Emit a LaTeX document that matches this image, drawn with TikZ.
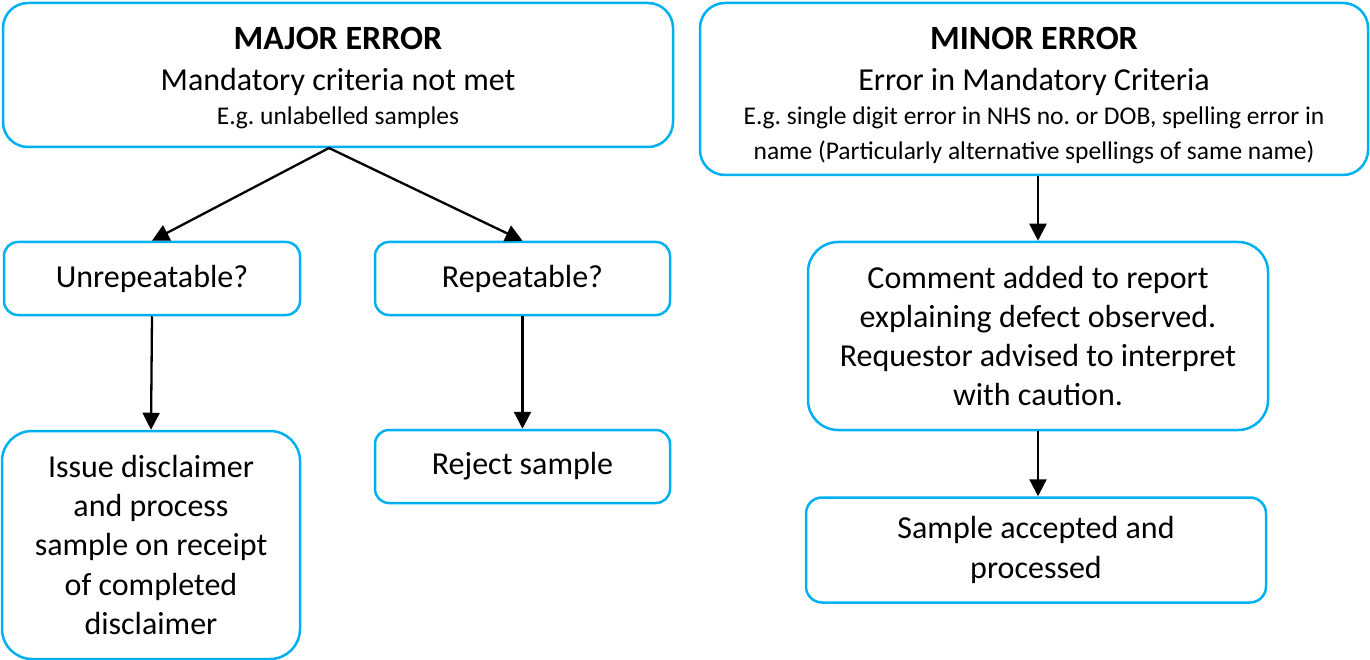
\documentclass[tikz,border=0pt]{standalone}
\usepackage{fontspec}
\setmainfont{Carlito}
\usetikzlibrary{arrows.meta}
\definecolor{boxblue}{RGB}{0,176,240}
\newcommand{\titlef}{\fontsize{34}{40}\selectfont\bfseries}
\newcommand{\headf}{\fontsize{32}{40.5}\selectfont}
\newcommand{\bodyf}{\fontsize{32}{39.3}\selectfont}
\newcommand{\smallf}{\fontsize{25.5}{34.5}\selectfont}
\newcommand{\topstrut}[1]{\rule{0pt}{#1}}
\frenchspacing
\begin{document}
\begin{tikzpicture}[x=1pt,y=-1pt,
            box/.style={draw=boxblue,line width=2.5pt,rounded corners=#1,
                align=flush center,inner sep=0pt,font=\bodyf},
            box/.default=14pt,
            go/.style={line width=2.3pt,-{Triangle[width=17pt,length=17pt]}}]
            \useasboundingbox (0,0) rectangle (1370,660);
            % <<< left side
            \node[box=25pt,minimum width=670pt,minimum height=144pt,text width=660pt]
                (major) at (338,75)
                {{\titlef\topstrut{29pt}MAJOR ERROR\par}{\headf Mandatory criteria not met\par}{\smallf E.g. unlabelled samples\par}};
            \node[box,minimum width=296pt,minimum height=73pt,text width=290pt]
                (unrep) at (152,278.5) {Unrepeatable?};
            \node[box,minimum width=295pt,minimum height=73pt,text width=290pt]
                (rep) at (522.5,278.5) {Repeatable?};
            \node[box=30pt,minimum width=298pt,minimum height=228pt,text width=294pt]
                (issue) at (151,545) {Issue disclaimer\\ and process\\ sample on receipt\\ of completed\\ disclaimer};
            \node[box,minimum width=295pt,minimum height=73pt,text width=290pt]
                (reject) at (522.5,466.5) {Reject sample};
            % <<< right side
            \node[box=25pt,minimum width=668pt,minimum height=172pt,text width=660pt]
                (minor) at (1034,89)
                {{\titlef\topstrut{35pt}MINOR ERROR\par}{\headf Error in Mandatory Criteria\par}{\smallf E.g. single digit error in NHS no. or DOB, spelling error in\\ name (Particularly alternative spellings of same name)\par}};
            \node[box=30pt,minimum width=460pt,minimum height=188pt,text width=456pt]
                (comment) at (1038,336) {Comment added to report\\ explaining defect observed.\\ Requestor advised to interpret\\ with caution.};
            \node[box=16pt,minimum width=460pt,minimum height=105pt,text width=456pt]
                (accepted) at (1036,550) {Sample accepted and\\ processed};
            \coordinate (split) at (329,148);
            \begin{scope}[go]
                \draw (split)--(unrep.north);
                \draw (split)--(rep.north);
                \draw (unrep.south)--(issue.north);
                \draw (rep.south)--(reject.north);
                \draw (minor.south -| comment.north)--(comment.north);
                \draw (comment.south)--(comment.south |- accepted.north);
            \end{scope}
        \end{tikzpicture}
\end{document}
